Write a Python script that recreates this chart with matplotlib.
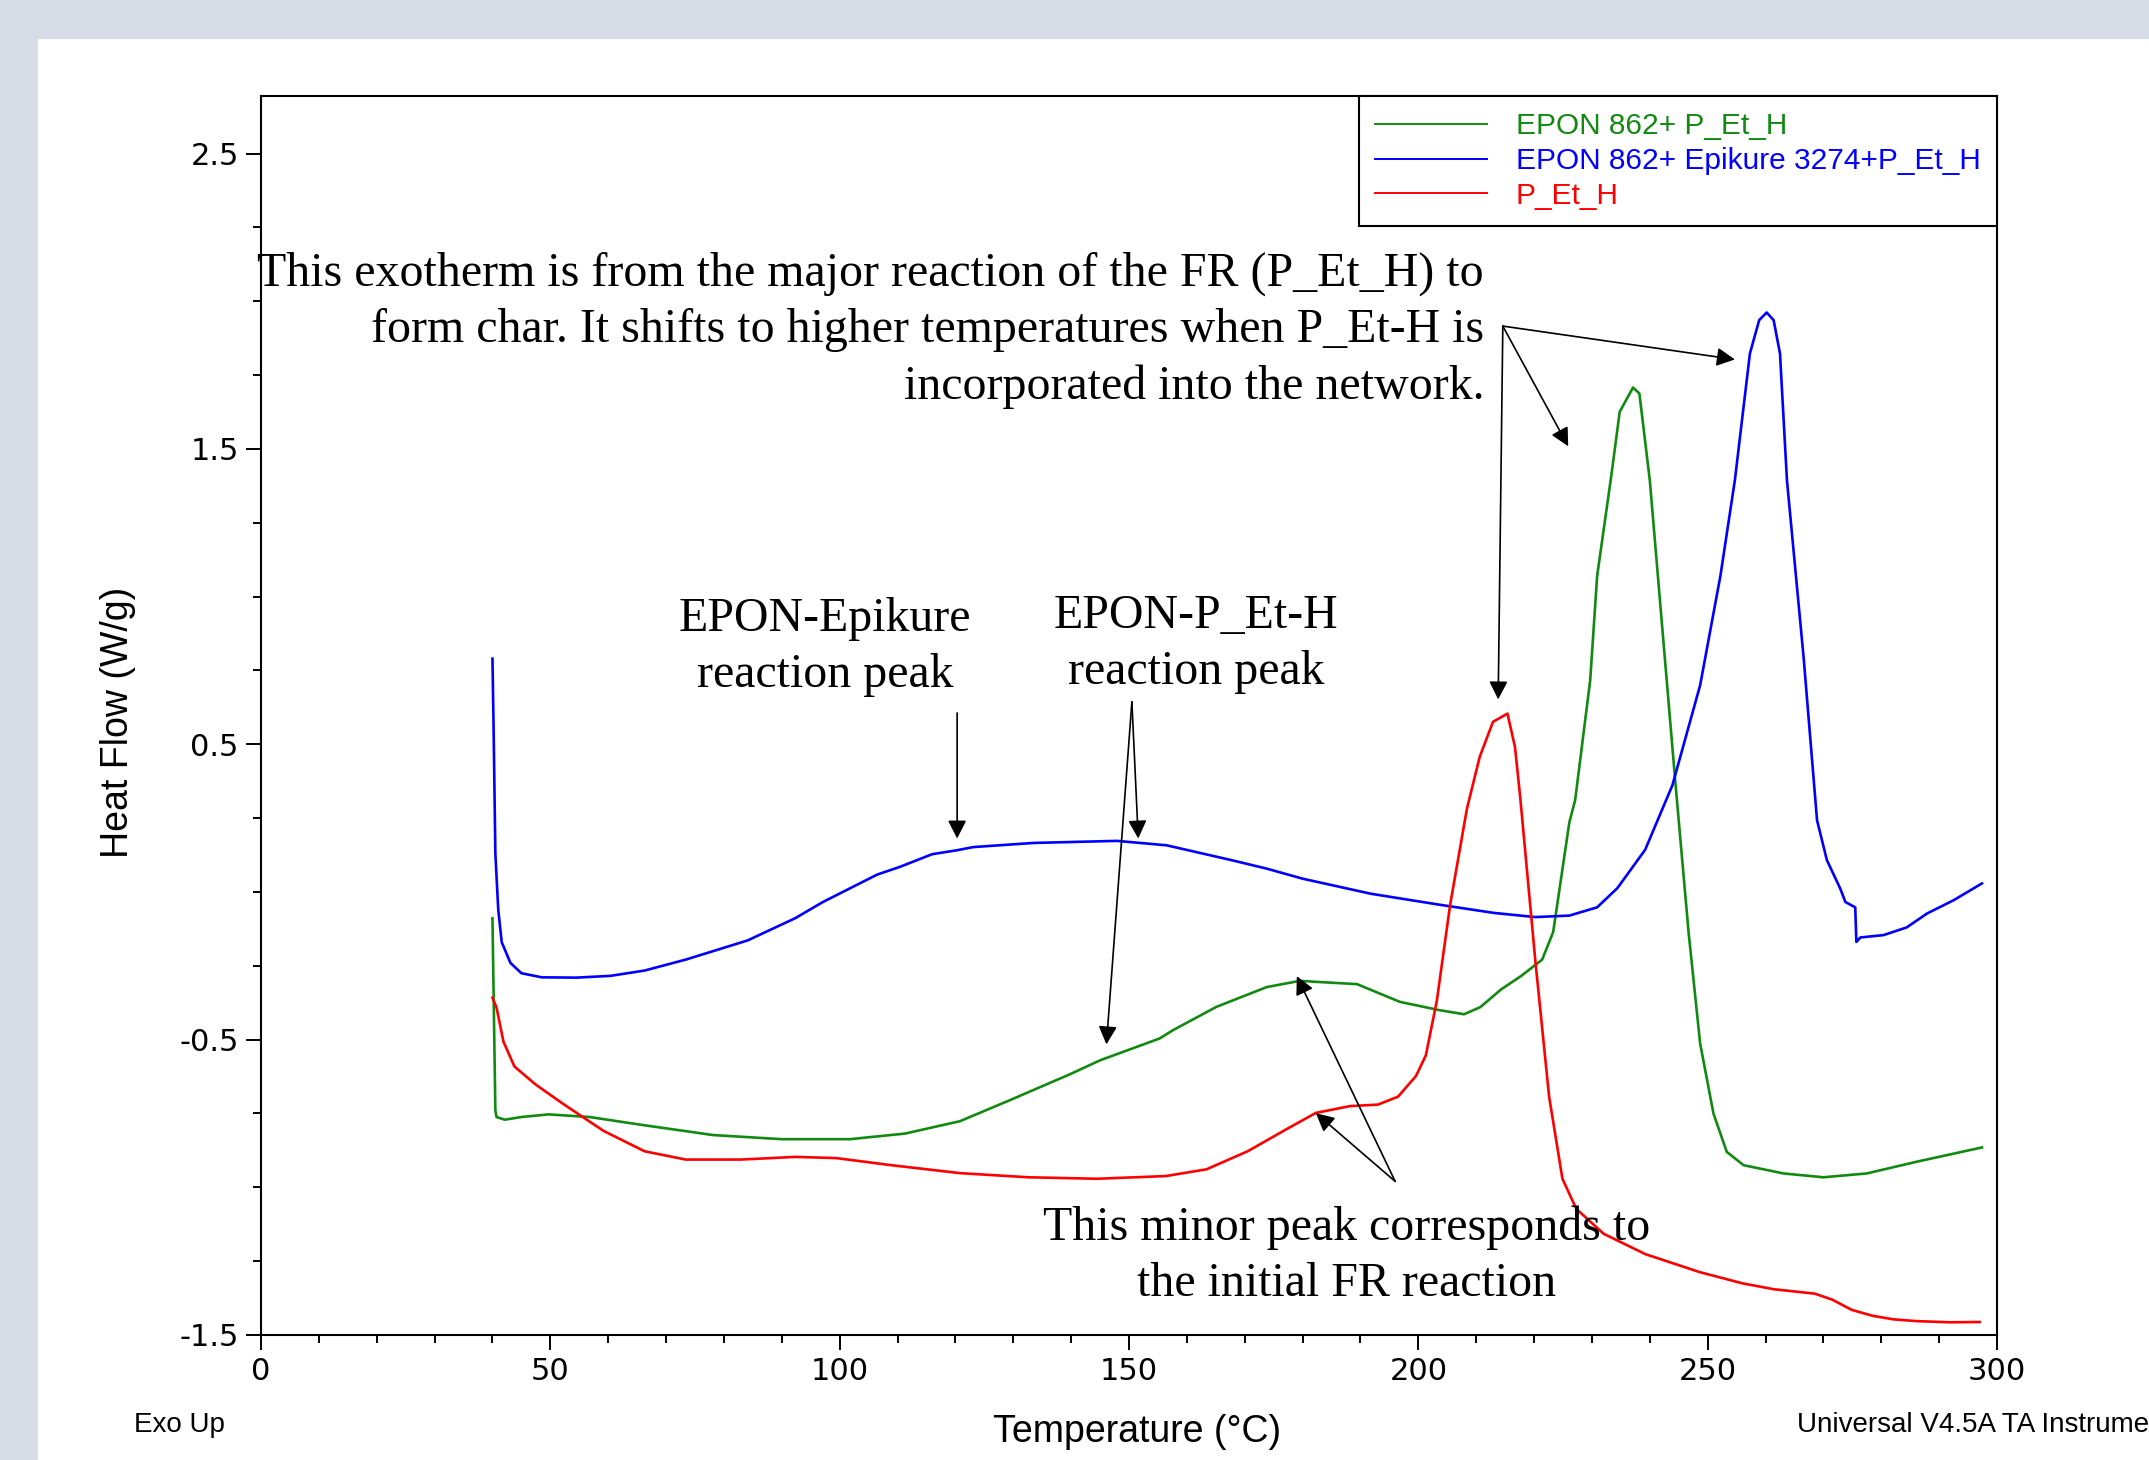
import matplotlib.pyplot as plt
from matplotlib.patches import Rectangle
from matplotlib.ticker import MultipleLocator

# DSC traces: temperature (°C) and heat flow (W/g)
temp_epon_pet = [40.0, 40.5, 40.7, 42.1, 45.0, 49.7, 56.8, 66.3, 78.1, 90.0, 101.8, 111.3,
                 120.8, 129.4, 139.7, 145.0, 155.3, 157.6, 165.1, 173.8, 179.5, 183.0, 189.4,
                 196.8, 203.6, 207.9, 210.7, 214.3, 217.8, 221.4, 223.3, 226.1, 227.1, 229.7,
                 230.9, 233.4, 234.8, 237.1, 238.2, 240.0, 242.0, 244.4, 246.7, 248.7, 251.0,
                 253.3, 256.2, 263.1, 270.0, 277.5, 286.2, 297.4]
hf_epon_pet = [-0.089, -0.74, -0.762, -0.771, -0.762, -0.753, -0.762, -0.790, -0.823, -0.837,
               -0.837, -0.818, -0.776, -0.705, -0.618, -0.570, -0.496, -0.468, -0.389, -0.322,
               -0.301, -0.305, -0.312, -0.372, -0.400, -0.414, -0.390, -0.330, -0.284, -0.229,
               -0.136, 0.236, 0.311, 0.717, 1.07, 1.417, 1.626, 1.708, 1.688, 1.394, 0.93,
               0.375, -0.136, -0.513, -0.75, -0.88, -0.925, -0.953, -0.966, -0.953, -0.913,
               -0.865]

temp_epon_epi_pet = [40.0, 40.2, 40.5, 41.0, 41.6, 43.1, 45.0, 48.5, 54.5, 60.4, 66.3, 73.4,
                     84.1, 92.3, 97.1, 106.5, 110.4, 116.0, 120.2, 123.1, 133.5, 147.9, 156.5,
                     168.1, 173.8, 180.0, 191.8, 203.6, 213.1, 220.2, 226.1, 230.9, 234.4,
                     239.2, 243.9, 248.7, 252.2, 254.7, 257.3, 258.9, 260.2, 261.4, 262.5,
                     263.7, 266.6, 268.9, 270.6, 272.9, 273.8, 275.5, 275.7, 276.4, 280.4,
                     284.4, 287.9, 292.5, 297.4]
hf_epon_epi_pet = [0.79, 0.55, 0.13, -0.06, -0.17, -0.24, -0.275, -0.289, -0.29, -0.284,
                   -0.266, -0.229, -0.164, -0.089, -0.034, 0.059, 0.085, 0.128, 0.141, 0.152,
                   0.166, 0.173, 0.158, 0.106, 0.079, 0.045, -0.006, -0.043, -0.071, -0.085,
                   -0.080, -0.052, 0.013, 0.143, 0.361, 0.70, 1.07, 1.394, 1.823, 1.936, 1.962,
                   1.936, 1.823, 1.394, 0.79, 0.243, 0.108, 0.012, -0.034, -0.052, -0.169,
                   -0.154, -0.146, -0.12, -0.073, -0.028, 0.029]

temp_pet = [40.0, 40.7, 41.9, 43.8, 47.4, 52.1, 59.2, 66.3, 73.4, 82.9, 92.3, 99.4, 108.9,
            120.8, 132.6, 144.4, 156.3, 163.4, 170.5, 177.6, 182.3, 188.2, 193.0, 196.5,
            199.6, 201.3, 203.2, 205.5, 208.4, 210.6, 212.9, 215.4, 216.7, 217.6, 220.2,
            222.6, 224.9, 227.3, 232.0, 239.2, 248.6, 256.0, 261.4, 268.5, 271.5, 274.9,
            278.5, 282.1, 286.1, 291.9, 297.0]
hf_pet = [-0.358, -0.391, -0.507, -0.591, -0.651, -0.716, -0.809, -0.878, -0.906, -0.906,
          -0.897, -0.901, -0.925, -0.952, -0.966, -0.971, -0.962, -0.939, -0.878, -0.799,
          -0.748, -0.725, -0.720, -0.693, -0.623, -0.553, -0.368, -0.043, 0.282, 0.457,
          0.576, 0.604, 0.491, 0.322, -0.229, -0.693, -0.971, -1.073, -1.157, -1.226,
          -1.287, -1.325, -1.345, -1.36, -1.38, -1.415, -1.435, -1.447, -1.453, -1.457,
          -1.456]

series_labels = ["EPON 862+ P_Et_H", "EPON 862+ Epikure 3274+P_Et_H", "P_Et_H"]

W, H = 2149, 1460


def fx(px):
    return px / W


def fy(py):
    return 1 - py / H


fig = plt.figure(figsize=(W / 100, H / 100), dpi=100, facecolor="#d8dce6")
fig.add_artist(Rectangle((fx(38), 0), 1, fy(39), transform=fig.transFigure,
                         facecolor="white", edgecolor="none", zorder=0))

ax = fig.add_axes([fx(261), fy(1335), (1997 - 261) / W, (1335 - 96) / H])
plt.rcParams["font.family"] = ["Liberation Sans", "DejaVu Sans"]

ax.plot(temp_epon_pet, hf_epon_pet, color="#128a12", lw=1.9, label=series_labels[0])
ax.plot(temp_epon_epi_pet, hf_epon_epi_pet, color="#0000ff", lw=1.9, label=series_labels[1])
ax.plot(temp_pet, hf_pet, color="#ff0000", lw=1.9, label=series_labels[2])

ax.set_xlim(0, 300)
ax.set_ylim(-1.5, 2.695)
ax.set_xticks(range(0, 301, 50))
ax.set_yticks([-1.5, -0.5, 0.5, 1.5, 2.5])
ax.set_yticklabels(["-1.5", "-0.5", "0.5", "1.5", "2.5"])
ax.xaxis.set_minor_locator(MultipleLocator(10))
ax.yaxis.set_minor_locator(MultipleLocator(0.25))
ax.tick_params(which="both", direction="out", width=1.4, labelsize=22,
               top=False, right=False)
ax.tick_params(which="major", length=11, pad=5)
ax.tick_params(which="minor", length=6)
for sp in ax.spines.values():
    sp.set_linewidth(1.5)

leg = ax.legend(loc="upper right", bbox_to_anchor=(1, 1), borderaxespad=0,
                fontsize=21.5, labelcolor="linecolor", fancybox=False, framealpha=1,
                edgecolor="black", handlelength=3.75, handletextpad=0.95,
                labelspacing=0.22, borderpad=0.55)
leg.get_frame().set_linewidth(1.5)
for ln in leg.get_lines():
    ln.set_linewidth(1.4)

serif = ["Liberation Serif", "DejaVu Serif"]
fig.text(fx(1484), fy(330), "This exotherm is from the major reaction of the FR (P_Et_H) to\n"
         "form char. It shifts to higher temperatures when P_Et-H is\n"
         "incorporated into the network.", ha="right", va="center",
         multialignment="right", family=serif, fontsize=34.5, linespacing=1.36)
fig.text(fx(825), fy(647), "EPON-Epikure\nreaction peak", ha="center", va="center",
         family=serif, fontsize=34.5, linespacing=1.36)
fig.text(fx(1196), fy(644), "EPON-P_Et-H\nreaction peak", ha="center", va="center",
         family=serif, fontsize=34.5, linespacing=1.36)
fig.text(fx(1347), fy(1256), "This minor peak corresponds to\nthe initial FR reaction",
         ha="center", va="center", family=serif, fontsize=34.5, linespacing=1.36)

arrow = dict(arrowstyle="-|>,head_length=0.55,head_width=0.28", mutation_scale=20,
             color="black", lw=1.2, shrinkA=0, shrinkB=0)
for tail, head in [((214.6, 1.916), (254.7, 1.803)),
                   ((214.6, 1.916), (225.9, 1.509)),
                   ((214.6, 1.916), (213.8, 0.652)),
                   ((120.3, 0.606), (120.3, 0.181)),
                   ((150.5, 0.644), (151.6, 0.181)),
                   ((150.5, 0.644), (146.1, -0.516)),
                   ((196.0, -0.980), (179.0, -0.285)),
                   ((196.0, -0.980), (182.3, -0.749))]:
    ax.annotate("", xy=head, xytext=tail, arrowprops=arrow)

fig.text(fx(118), fy(722), "Heat Flow (W/g)", rotation=90, ha="center", va="center",
         fontsize=27)
fig.text(fx(1137), fy(1432), "Temperature (°C)", ha="center", va="center", fontsize=27)
fig.text(fx(134), fy(1425), "Exo Up", ha="left", va="center", fontsize=20)
# the instrument stamp runs off the right edge in the original as well
fig.text(fx(1797), fy(1425), "Universal V4.5A TA Instruments", ha="left", va="center",
         fontsize=20)

fig.savefig("out.png", dpi=100, facecolor=fig.get_facecolor())
